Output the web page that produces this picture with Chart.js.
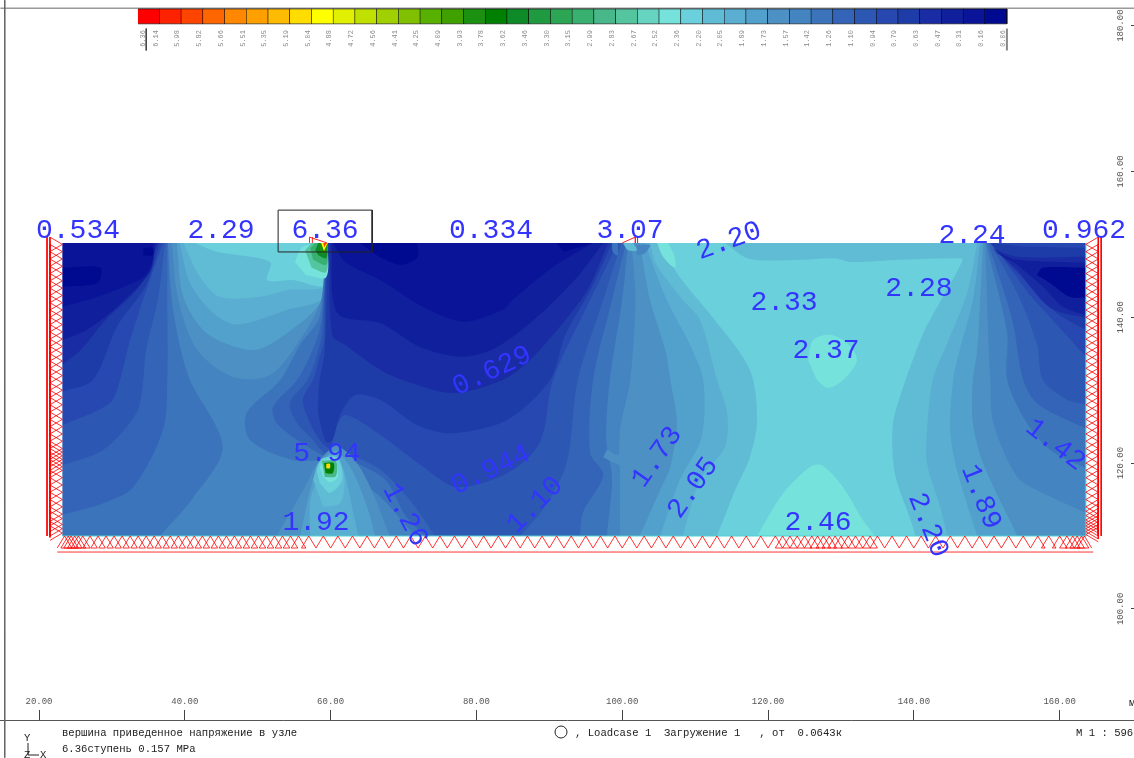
<!DOCTYPE html>
<html>
<head>
<meta charset="utf-8">
<title>Stress contour</title>
<script src="https://cdn.jsdelivr.net/npm/chart.js@4"></script>
<style>
    html, body { margin: 0; padding: 0; background: #fff; }
    canvas { display: block; }
</style>
</head>
<body>
<canvas id="chart" width="1134" height="758"></canvas>
<script>
// Legend
const legendLabels = ["6.36","6.14","5.98","5.82","5.66","5.51","5.35","5.19","5.04","4.88","4.72","4.56","4.41","4.25","4.09","3.93","3.78","3.62","3.46","3.30","3.15","2.99","2.83","2.67","2.52","2.36","2.20","2.05","1.89","1.73","1.57","1.42","1.26","1.10","0.94","0.79","0.63","0.47","0.31","0.16","0.06"];
const legendColors = ["#ff0000","#ff2200","#ff4400","#ff6600","#ff8800","#ffa000","#ffbb00","#ffdd00","#ffff00","#e0f000","#c0e000","#a0d000","#80c000","#58b000","#40a000","#1c9010","#008000","#0e8a28","#209a40","#2ca555","#38b070","#48b88a","#55c5a0","#66d4c0","#76e2dc","#6ad0dc","#60bcd4","#5aaed2","#52a0cc","#4c90c4","#4484c0","#3c74bc","#3464b8","#2c58b4","#2648b0","#1e3ca8","#1a2ca4","#10209c","#0a1498","#000a90"];

// Axis ticks
const xTicks = [20, 40, 60, 80, 100, 120, 140, 160];
const yTicks = [100, 120, 140, 160, 180];

// Model outline
const domain = [[23.2,150.2],[163.6,150.2],[163.6,110],[23.2,110]];

// Contours below a level, left + centre (x, y in model units)
const below220 = [[23.2,150.2],[41.4,150.2],[44.4,149],[51.7,147.6],[51.3,145.1],[54.8,145.1],[59.2,144.4],[59.6,150.2],[105.1,150.2],[107.9,145.5],[112.4,140],[117.5,132.8],[118.5,125.9],[117.5,120.8],[115.5,116.3],[113,110],[23.2,110]];
const below205 = [[23.2,150.2],[39.8,150.2],[42.1,145.5],[44.8,142.8],[50.3,142.8],[54,143.7],[59.5,144.4],[59.6,150.2],[103.8,150.2],[104.7,147.2],[108.3,142.4],[110.7,139.6],[113,131.4],[114.4,126.9],[114.1,122.2],[110.7,117.7],[108.3,110],[23.2,110]];
const below189 = [[23.2,150.2],[39.3,150.2],[40.7,144.7],[43.9,140.6],[47.2,139],[54,141],[59.2,142.8],[59.4,150.2],[103.1,150.2],[106.1,142.4],[109.3,136.2],[111.1,131.4],[110.9,123.6],[107.9,117.7],[105.2,110],[23.2,110]];
const below173 = [[23.2,150.2],[38.9,150.2],[39.8,142.8],[43,137.8],[49.4,135.5],[54,137.8],[58.8,142.4],[59.4,150.2],[102.4,150.2],[103.8,142.4],[105.9,135.5],[106.6,131.4],[107.5,125.5],[106.6,119.5],[105.2,116.3],[102.4,110],[23.2,110]];
const below157 = [[23.2,150.2],[38.2,150.2],[39.1,142.4],[41.7,135.5],[46.6,131.8],[51.7,132.1],[55.8,136.9],[58.7,142.4],[59.5,150.2],[101.3,150.2],[101.8,142.4],[101.1,131.4],[99.7,124.5],[99.7,117.7],[99.7,110],[23.2,110]];

// Left lobe
const left142 = [[23.2,150.2],[37.7,150.2],[38.2,142.4],[39.3,136.2],[40.7,131.4],[45.2,122.2],[41.1,115.2],[36.6,110],[23.2,110]];
const left126 = [[23.2,150.2],[37.6,150.2],[37.6,142.4],[37.6,131.4],[37,124.5],[32.9,116.7],[28.8,114.5],[23.2,112.9]];
const left110 = [[23.2,150.2],[37.3,150.2],[36.3,142.4],[34.7,135.5],[34.3,131.4],[33.4,126.9],[28.8,121.8],[23.2,119.7]];
const left094 = [[23.2,150.2],[37,150.2],[35.2,145.1],[32.5,136.9],[31.1,131.4],[29.7,128.2],[23.2,125.2]];
const left079 = [[23.2,150.2],[36.6,150.2],[34.7,144.4],[30.8,138.9],[27.4,131.4],[23.2,129.8]];
const left063 = [[23.2,150.2],[36.3,150.2],[33.9,144.4],[29.1,139.6],[25.7,135.5],[23.2,133.5]];
const left047 = [[23.2,150.2],[36,150.2],[35.2,146.2],[30.7,141.4],[26.6,138.3],[23.2,136.9]];
const left031 = [[23.2,150.2],[35.6,150.2],[35.6,147.9],[34.3,145.5],[28,142.8],[23.2,141.4]];
const left016a = [[23.2,146.8],[28.4,146.8],[28,144.7],[23.2,144.2]];
const left016b = [[34.3,149.5],[35.6,149.5],[35.6,148.5],[34.3,148.5]];

// Centre lobe
const mid142 = [[100.8,150.2],[100,142.4],[98.3,131.4],[97.8,123.2],[98.6,118],[97.9,110],[71.6,110],[66.8,115.4],[63.1,118.1],[59.9,120.2],[54.8,120.4],[48.9,123.2],[48.5,126.9],[53.1,131.4],[55.8,136.2],[58.3,139.6],[58.8,142.4],[59.4,150.2]];
const mid126 = [[100.5,150.2],[98.6,142.4],[96,131.4],[95.6,121.4],[97.4,118.4],[94.6,113.2],[94.2,110],[72.9,110],[70.2,112.9],[67.5,117.7],[62.7,120.4],[60.2,121.1],[59.5,120.8],[55.4,123.2],[52.6,125.5],[52.1,127.7],[55.4,131.4],[57.2,134.8],[58.5,138.3],[59,142.4],[59.5,150.2]];
const mid110 = [[99.9,150.2],[97.4,142.4],[93.9,131.4],[92.8,122.2],[91.9,118.6],[89.1,113.6],[86,110],[74.3,110],[70.9,114.9],[66.8,119.1],[62,121.5],[60.2,122.1],[59.2,121.4],[57.2,123.6],[55.4,125.5],[54.4,128.2],[56.8,131.4],[57.9,134.1],[58.8,137.6],[59.1,142.4],[59.6,150.2]];
const mid094 = [[99.4,150.2],[95.6,142.4],[90.5,131.4],[88.7,122.8],[84.2,118.6],[77.3,116.7],[72.7,119.5],[66.8,123.9],[62,126.6],[60.6,124.5],[59.9,122.1],[58.8,122.8],[57.2,125.5],[56.2,128.7],[57.6,131.4],[58.3,133.9],[59.1,136.9],[59.2,142.4],[59.5,150.2]];
const mid079 = [[98.6,150.2],[95.6,143.7],[92.2,137.6],[90.1,131.4],[84.2,125.9],[76.8,124.1],[71.9,125.2],[66.8,128.7],[63.3,129.3],[61.3,126.6],[60.3,123.2],[59.6,122.8],[59.2,123.2],[58.3,126.9],[58.3,129.1],[58.5,131.4],[59.2,135.5],[59.6,150.2]];
const mid063 = [[98.1,150.2],[95.2,143.7],[91.1,138.3],[86.9,133.7],[83.6,131.4],[76.8,129.6],[69.9,131.4],[66.8,132.8],[62,136.2],[60.2,137.6],[59.8,150.2]];
const mid047 = [[97.4,150.2],[93.8,145.5],[88.3,140],[82.8,135.9],[78.2,134.6],[72.3,135.9],[66.8,139.2],[60.9,140.6],[60.1,150.2]];
const mid031 = [[96,150.2],[90.5,146.9],[85,142.4],[83.6,141],[78.2,139.4],[72.7,141.4],[66.8,145.1],[62,147.6],[60.3,150.2]];
const mid016a = [[64,150.2],[71.9,150.2],[71.9,148.2],[69.6,147.2],[66.8,148.2]];
const mid016b = [[91,150.2],[96,150.2],[93,149.3],[92,149]];

// Right lobe
const right220 = [[114.1,150.2],[117.5,148],[124.4,147.9],[129.2,148.1],[131.2,147.6],[138.1,147.9],[145.9,148.1],[146.7,147.9],[144,142.8],[141.3,137.8],[138.1,129.1],[137.1,125],[137.4,118.6],[139.9,111.2],[140.2,110],[163.6,110],[163.6,150.2]];
const right205 = [[148.7,150.2],[147.3,143.3],[144.6,136.5],[142.6,131.4],[141.8,124.5],[141.8,120],[143.6,114],[144.6,110],[163.6,110],[163.6,150.2]];
const right189 = [[149.1,150.2],[148.1,142.4],[146.3,135.5],[145.4,131.4],[145,124.5],[145.9,119.1],[148.7,110],[163.6,110],[163.6,150.2]];
const right173 = [[149.5,150.2],[149.1,142.4],[148.7,135.5],[148.1,131.4],[148.1,125.5],[149.5,120],[154.2,110],[163.6,110],[163.6,150.2]];
const right157 = [[149.8,150.2],[150.2,137.8],[150.5,131.4],[150.9,125.5],[154.2,118.1],[157.7,115.9],[163.6,113.2],[163.6,150.2]];
const right142 = [[149.9,150.2],[152.8,137.8],[152.8,131.4],[155.5,125.5],[158.7,121.8],[163.6,119.3],[163.6,150.2]];
const right126 = [[150.2,150.2],[153.5,139.6],[155,131.4],[156.9,128.2],[161,125.9],[163.6,124.8],[163.6,150.2]];
const right110 = [[150.5,150.2],[154.6,142.4],[156.9,136.2],[157.7,131.4],[161,128.7],[163.6,128.1],[163.6,150.2]];
const right094 = [[150.7,150.2],[155.9,143.1],[158.7,140],[163.6,134.6],[163.6,150.2]];
const right079 = [[150.5,150.2],[154.2,146.1],[159.6,140.6],[163.6,138.3],[163.6,149.5],[155,149.7]];
const right063 = [[150.9,149.4],[154.2,148.3],[163.6,148.3],[163.6,139.9],[158.7,141.3],[154.2,146.5]];
const right047 = [[151.1,149],[154.2,147.9],[163.6,147.5],[163.6,140.3],[160.5,141.4],[157.7,144.2],[154.2,147.2]];
const right031 = [[156.9,145.8],[157.7,146.8],[163.6,146.8],[163.6,142.7],[161.4,142.8],[158.7,144.7]];

// Peak at 5.94
const lower157 = [[52.6,110],[56.8,117.3],[57.9,119.6],[59.6,121.6],[60.9,122.4],[63.6,120],[65.8,115.9],[68.1,110]];
const lower173 = [[55.8,110],[57.2,116.3],[58.1,119.2],[59.7,121.2],[60.9,121.6],[63,118.9],[65,114],[66.1,110]];
const lower189 = [[57.2,110],[57.2,114.9],[58.3,118],[59.6,120.9],[60.9,121],[62,118.3],[63.1,113.2],[63.8,110]];
const lower205 = [[57.6,117.7],[58.5,120.2],[60.9,120.8],[61.9,117.7],[61.3,114.5],[59,114]];
const lower220 = [[58.1,119],[58.8,120.6],[60.9,120.7],[61.6,117.7],[59.9,115.9],[58.5,117.3]];
const lower236 = [[58.5,119.5],[59.2,120.4],[60.6,120.6],[61,118.1],[59.9,117.4],[59,118.1]];
const lower300 = [[58.8,120.3],[60.7,120.3],[60.7,118.2],[59.2,118.1]];
const lower370 = [[59.1,120],[60.4,120],[60.3,118.6],[59.3,118.6]];
const lower520 = [[59.4,119.9],[59.9,119.9],[59.9,119.3],[59.4,119.3]];

// Peak at 6.36
const upper236 = [[55.1,147.6],[56.2,149.7],[59.6,150.2],[59.4,145.5],[56.6,145.8]];
const upper270 = [[56.5,149.2],[57.4,150.2],[59.6,150.2],[59.4,146.2],[57.4,146.8]];
const upper320 = [[57.2,149.5],[57.9,150.2],[59.6,150.2],[59.4,147.2],[57.6,147.9]];
const upper350 = [[57.9,149.2],[58.3,150.2],[59.6,150.2],[59.4,148.1],[58.3,148.5]];
const upper370 = [[58.4,150.2],[59.6,150.2],[59.3,148.7],[58.6,148.9]];
const upper520 = [[58.7,150.2],[59.6,150.2],[59.1,149.1]];
const upper600 = [[59,150.2],[59.5,150.2],[59.1,149.6]];

// Small patches
const patch237a = [[125.5,134.1],[126.2,136.9],[128.5,137.6],[130.8,136.5],[132.2,134.1],[130.3,131.4],[128.2,130.3],[126.7,131.4]];
const patch246 = [[118.5,110],[122.1,115.9],[125.8,119.5],[127.4,119.7],[130.3,116.7],[133,112.2],[134.7,110]];
const patch237b = [[104.8,150.2],[105.6,148.3],[107.2,146.8],[107.2,148.3],[106.3,150.2]];
const patch210 = [[100.1,150.2],[100.8,149.2],[102,149.2],[101.5,150.2]];
const patch135 = [[98.6,150.2],[98.7,149],[99.4,148.5],[99.4,150.2]];
const patch150 = [[102,149.9],[103.8,149.9],[103.1,148.8],[102,148.5]];
const patch165 = [[97.4,120.8],[98,121.8],[99.3,121.1],[100.4,122.1],[100.8,120.8],[101.5,119],[100.1,119.5],[98.7,120.1]];

// Support nodes along the edges
const leftNodes = [110.4,111,111.6,112.4,113,114,115,116,117,118,119,119.5,120,120.5,121,121.5,122,123,124,125,126,127,128,129,130,131,132,133,134,135,136,137,138,139,140,141,142,143,144,145,146,147,148,149,150];
const rightNodes = [110.2,110.6,111,111.4,111.8,112.2,112.8,113.4,114,115,116,117,118,119,120,121,122,123,124,125,126,127,128,129,130,131,132,133,134,135,136,137,138,139,140,141,142,143,144,145,146,147,148,149,150];
const bottomNodes = [23.5,24,24.4,24.9,25.4,26,27,28.1,29.2,30.3,31.4,32.5,33.6,34.7,35.8,36.9,38,39.1,40.2,41.3,42.4,43.5,44.6,45.7,46.8,47.9,49,50.1,51.2,52.3,53.4,54.5,55.6,57,59,61,63,65,67,69,71,73,75,77,79,81,83,85,87,89,91,93,95,97,99,101,103,105,107,109,111,113,115,117,119,121,122,123,124,125,126,126.8,127.6,128.4,129.2,130,131,132,133,134,135,137,139,141,143,145,147,149,151,153,155,157,158.5,160,161,161.8,162.4,163,163.4];

// Value labels on the plot
const labelTexts = ["0.534","2.29","6.36","0.334","3.07","2.20","2.24","0.962","2.33","2.28","2.37","0.629","5.94","0.944","1.92","1.26","1.10","1.73","2.05","2.46","2.20","1.89","1.42"];
const labelX = [25.35,44.97,59.23,82,101.07,114.65,147.98,163.35,122.2,140.7,127.96,82.14,59.5,82,58,70.2,88.04,104.77,109.7,126.86,141.95,149.2,159.4];
const labelY = [151.84,151.84,151.84,151.84,151.84,150.47,151.15,151.84,141.96,143.88,135.38,132.63,121.25,119.05,111.8,112.9,114.25,120.84,116.6,111.8,111.5,115.35,122.5];
const labelAngles = [0,0,0,0,0,-20,0,0,0,0,0,-25,0,-25,0,62,-45,-55,-55,0,68,68,38];

const maxBox = [[52.8,154.7],[65.7,154.7],[65.7,148.96],[52.8,148.96],[52.8,154.7]];

const infoLines = [
    ["вершина приведенное напряжение в узле", 62, 733],
    ["6.36ступень 0.157 MPa", 62, 749],
    [", Loadcase 1  Загружение 1   , от  0.0643к", 575, 733],
    ["М 1 : 596", 1076, 733],
    ["м", 1129, 703],
    ["Y", 24, 738],
    ["Z", 24, 755],
    ["X", 40, 755]
];

// paint order: first one ends up underneath
const paintOrder = [
    [domain, 25],
    [below220, 26], [right220, 26],
    [below205, 27], [right205, 27],
    [below189, 28], [right189, 28],
    [below173, 29], [right173, 29],
    [below157, 30], [right157, 30],
    [left142, 31], [mid142, 31], [right142, 31],
    [left126, 32], [mid126, 32], [right126, 32],
    [left110, 33], [mid110, 33], [right110, 33],
    [left094, 34], [mid094, 34], [right094, 34],
    [left079, 35], [mid079, 35], [right079, 35],
    [left063, 36], [mid063, 36], [right063, 36],
    [left047, 37], [mid047, 37], [right047, 37],
    [left031, 38], [mid031, 38], [right031, 38],
    [left016a, 39], [left016b, 39], [mid016a, 39], [mid016b, 39], [right031, 39],
    [patch165, 29], [patch135, 31], [patch150, 30], [patch210, 26],
    [patch237a, 24], [patch237b, 24], [patch246, 24],
    [lower157, 29], [lower173, 28], [lower189, 27], [lower205, 26], [lower220, 25], [lower236, 24],
    [lower300, 21], [lower370, 16], [lower520, 7],
    [upper236, 24], [upper270, 22], [upper320, 20], [upper350, 17], [upper370, 15], [upper520, 8], [upper600, 2]
];

function toPoints(list) {
    return list.map(p => ({ x: p[0], y: p[1] }));
}

function onEdge(p) {
    return p[0] === 23.2 || p[0] === 163.6 || p[1] === 150.2 || p[1] === 110;
}

// edge points are doubled so the curve keeps a sharp corner there
function contour(list, color) {
    const pts = [];
    list.forEach(p => {
        pts.push(p);
        if (onEdge(p)) pts.push(p);
    });
    return {
        data: toPoints(pts),
        showLine: true,
        fill: "shape",
        backgroundColor: color,
        borderWidth: 0,
        pointRadius: 0,
        tension: 0.3,
        capBezierPoints: false
    };
}

function polygon(list, color) {
    return {
        data: toPoints(list),
        showLine: true,
        fill: "shape",
        backgroundColor: color,
        borderWidth: 0,
        pointRadius: 0,
        tension: 0
    };
}

function polyline(list, color, width) {
    return {
        data: toPoints(list),
        showLine: true,
        fill: false,
        borderColor: color,
        borderWidth: width,
        pointRadius: 0,
        tension: 0
    };
}

// one V per support node, joined along the foot line
function supportSide(nodes, apex, foot) {
    const pts = [];
    nodes.forEach(n => {
        pts.push([foot, n - 1], [apex, n], [foot, n + 1]);
    });
    return pts;
}

function supportBottom(nodes, apex, foot) {
    const pts = [];
    nodes.forEach(n => {
        pts.push([n - 1, foot], [n, apex], [n + 1, foot]);
    });
    return pts;
}

const datasets = [];

paintOrder.forEach(item => datasets.push(contour(item[0], legendColors[item[1]])));

// white margin trims any curve that bulges past the mesh
datasets.push(polygon([[15.5,150.2],[170,150.2],[170,157],[15.5,157]], "#fff"));
datasets.push(polygon([[15.5,110],[170,110],[170,104],[15.5,104]], "#fff"));
datasets.push(polygon([[23.2,104],[23.2,157],[18,157],[18,104]], "#fff"));
datasets.push(polygon([[163.6,104],[163.6,157],[169,157],[169,104]], "#fff"));

// thin edge on the mesh
datasets.push(polyline([[23.2,110],[163.6,110],[163.6,150.2]], "#4fd0d0", 1));

// supports
const red = "rgba(255,0,0,0.8)";
datasets.push(polyline(supportSide(leftNodes, 23.2, 21.5), red, 1));
datasets.push(polyline(supportSide(rightNodes, 163.6, 165.3), red, 1));
datasets.push(polyline(supportBottom(bottomNodes, 110, 108.35), red, 1));
datasets.push(polyline([[21.1,151],[21.1,110]], "#ff0000", 1));
datasets.push(polyline([[21.5,151],[21.5,109.8]], "#ff0000", 1));
datasets.push(polyline([[165.3,151],[165.3,110]], "#ff0000", 1));
datasets.push(polyline([[165.7,151],[165.7,110]], "#ff0000", 1));
datasets.push(polyline([[22.5,107.8],[164.6,107.8]], red, 1));
// hinge marks
datasets.push(polyline([[57.1,150.2],[57.1,151],[59.5,150.2]], "#ff2020", 1));
datasets.push(polyline([[57.5,150.2],[57.5,151]], "#ff2020", 1));
datasets.push(polyline([[100,150.2],[101.8,151],[101.8,150.2]], "#ff2020", 1));
datasets.push(polyline([[102.1,151],[102.1,150.2]], "#ff2020", 1));

datasets.push(polyline(maxBox, "#222", 1));

// frame
datasets.push(polyline([[15.3,183.5],[15.3,79.6]], "#666", 1));
datasets.push(polyline([[14.7,182.4],[170.2,182.4]], "#666", 1));

// legend cells
legendColors.forEach((c, i) => {
    const cell = polygon([[i,182.3],[i + 1,182.3],[i + 1,180.25],[i,180.25]], c);
    cell.xAxisID = "legend";
    cell.borderWidth = 1;
    cell.borderColor = "rgba(0,0,0,0.6)";
    datasets.push(cell);
});
const endA = polyline([[0.38,179.6],[0.38,176.6]], "#444", 1);
endA.xAxisID = "legend";
datasets.push(endA);
const endB = polyline([[40,179.6],[40,176.6]], "#888", 2);
endB.xAxisID = "legend";
datasets.push(endB);

// chart.js paints the first dataset last
datasets.reverse();

const textPlugin = {
    id: "plotText",
    afterDatasetsDraw(chart) {
        const ctx = chart.ctx;
        const xs = chart.scales.x;
        const ys = chart.scales.y;
        ctx.save();

        ctx.font = "28px 'Liberation Mono'";
        ctx.fillStyle = "#3434ff";
        ctx.textAlign = "center";
        ctx.textBaseline = "middle";
        labelTexts.forEach((t, i) => {
            ctx.save();
            ctx.translate(xs.getPixelForValue(labelX[i]), ys.getPixelForValue(labelY[i]));
            ctx.rotate(labelAngles[i] * Math.PI / 180);
            ctx.fillText(t, 0, 0);
            ctx.restore();
        });

        // y tick labels read bottom to top
        ctx.font = "9px 'Liberation Mono'";
        ctx.fillStyle = "#555";
        ys.ticks.forEach(tick => {
            ctx.save();
            ctx.translate(1121, ys.getPixelForValue(tick.value));
            ctx.rotate(-Math.PI / 2);
            ctx.fillText(tick.value.toFixed(2), 0, 0);
            ctx.restore();
        });

        ctx.font = "10.6px 'Liberation Mono'";
        ctx.fillStyle = "#222";
        ctx.textAlign = "left";
        infoLines.forEach(line => ctx.fillText(line[0], line[1], line[2]));

        // load case circle and axis triad
        ctx.strokeStyle = "#222";
        ctx.lineWidth = 1;
        ctx.beginPath();
        ctx.arc(561, 732, 6, 0, Math.PI * 2);
        ctx.stroke();
        ctx.beginPath();
        ctx.moveTo(28, 743);
        ctx.lineTo(28, 755);
        ctx.lineTo(39, 755);
        ctx.stroke();
        ctx.restore();
    }
};

new Chart(document.getElementById("chart"), {
    type: "scatter",
    data: { datasets },
    options: {
        responsive: false,
        animation: false,
        layout: { padding: 0 },
        plugins: {
            legend: { display: false },
            tooltip: { enabled: false }
        },
        scales: {
            x: {
                type: "linear",
                position: { y: 84.76 },
                min: 14.65,
                max: 170.2,
                afterBuildTicks: axis => { axis.ticks = xTicks.map(v => ({ value: v })); },
                grid: { drawOnChartArea: false, tickLength: -11, color: "#444" },
                border: { display: true, color: "#555", width: 1 },
                ticks: {
                    autoSkip: false,
                    maxRotation: 0,
                    padding: -12.4,
                    color: "#555",
                    font: { family: "'Liberation Mono'", size: 9 },
                    callback: v => v.toFixed(2)
                }
            },
            legend: {
                type: "linear",
                axis: "x",
                position: { y: 179.4 },
                min: -6.35,
                max: 45.85,
                afterBuildTicks: axis => {
                    axis.ticks = legendLabels.map((l, i) => ({ value: i === 0 ? 0.23 : i - 0.18, label: l }));
                },
                afterTickToLabelConversion: axis => {
                    axis.ticks.forEach((t, i) => { t.label = legendLabels[i]; });
                },
                grid: { drawOnChartArea: false, drawTicks: false },
                border: { display: false },
                ticks: {
                    autoSkip: false,
                    minRotation: 90,
                    maxRotation: 90,
                    padding: 0,
                    color: "#8a8a8a",
                    font: { family: "'Liberation Mono'", size: 7 }
                }
            },
            y: {
                type: "linear",
                position: { x: 170.2 },
                min: 79.55,
                max: 183.52,
                afterBuildTicks: axis => { axis.ticks = yTicks.map(v => ({ value: v })); },
                grid: { drawOnChartArea: false, tickLength: 3, color: "#444" },
                border: { display: false },
                ticks: { display: false }
            }
        }
    },
    plugins: [textPlugin]
});
</script>
</body>
</html>
